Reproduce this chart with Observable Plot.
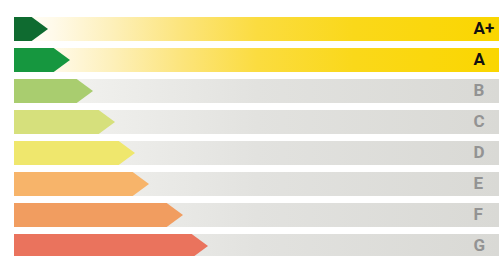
<!DOCTYPE html>
<html><head><meta charset="utf-8">
<script src="https://cdn.jsdelivr.net/npm/d3@7"></script>
<script src="https://cdn.jsdelivr.net/npm/@observablehq/plot@0.6"></script>
<style>body{margin:0;background:#fff;overflow:hidden}</style>
</head><body><div id="chart"></div>
<script>
const classes = ["A+","A","B","C","D","E","F","G"];
const arrowLengths = [34,56,79,101,121,135,169,194];
const arrowColors = ["#0f6b30","#16973f","#a9cd6f","#d6e07c","#efe76d","#f7b46a","#f19d60","#ea735d"];
const bandKinds = ["top","top","rest","rest","rest","rest","rest","rest"];
const labelColors = ["#111111","#111111","#939393","#939393","#939393","#939393","#939393","#939393"];
const fullScale = 485;

const rows = classes.map((c, i) => ({cls: c, len: arrowLengths[i], color: arrowColors[i], band: bandKinds[i], labelColor: labelColors[i]}));
const bandFill = {top: "url(#gradYellow)", rest: "url(#gradGray)"};

const plot = Plot.plot({
  width: 499, height: 256,
  margin: 0,
  x: {domain: [0, fullScale], range: [14, 499], axis: null},
  y: {type: "band", domain: classes, range: [13.8, 262.1], paddingInner: 0.216, paddingOuter: 0, axis: null},
  style: {background: "#ffffff", overflow: "hidden"},
  marks: [
    Plot.barX(rows, {x1: 0, x2: fullScale, y: "cls", fill: d => bandFill[d.band]}),
    Plot.barX(rows, {x1: 0, x2: "len", y: "cls", fill: "color"}),
    Plot.text(rows, {x: fullScale, y: "cls", text: "cls", dx: -26, dy: -0.5, textAnchor: "start", fill: d => d.labelColor,
      fontFamily: "Roboto", fontWeight: 700, fontSize: 17})
  ]
});

const svg = d3.select(plot);
const defs = svg.insert("defs", ":first-child");
const gy = defs.append("linearGradient").attr("id", "gradYellow").attr("x1", 0).attr("x2", 1).attr("y1", 0).attr("y2", 0);
[[0, "#ffffff"], [0.08, "#fffaea"], [0.2, "#fdf0bb"], [0.35, "#fce47a"], [0.5, "#fbdc40"], [0.7, "#fad81a"], [1, "#fad600"]]
  .forEach(([o, c]) => gy.append("stop").attr("offset", o).attr("stop-color", c));
const gg = defs.append("linearGradient").attr("id", "gradGray").attr("x1", 0).attr("x2", 1).attr("y1", 0).attr("y2", 0);
[[0, "#fbfbfa"], [0.15, "#f0f0ed"], [0.5, "#e2e2df"], [1, "#d9d9d5"]]
  .forEach(([o, c]) => gg.append("stop").attr("offset", o).attr("stop-color", c));

// turn each arrow bar into an arrow shape (same position and size as the bar Plot drew)
const arrowSet = new Set(arrowColors.map(c => d3.color(c).toString()));
plot.querySelectorAll("rect").forEach(node => {
  const f = node.getAttribute("fill");
  if (!f || f.startsWith("url") || !d3.color(f) || !arrowSet.has(d3.color(f).toString())) return;
  const x = +node.getAttribute("x"), y = +node.getAttribute("y");
  const w = +node.getAttribute("width"), h = +node.getAttribute("height");
  const head = h * 0.68;
  const x2 = x + w, xb = x2 - head;
  const p = document.createElementNS("http://www.w3.org/2000/svg", "path");
  p.setAttribute("d", `M${x},${y}L${xb},${y}L${x2},${y + h / 2}L${xb},${y + h}L${x},${y + h}Z`);
  p.setAttribute("fill", f);
  node.parentNode.replaceChild(p, node);
});

document.getElementById("chart").appendChild(plot);
</script>
</body></html>
